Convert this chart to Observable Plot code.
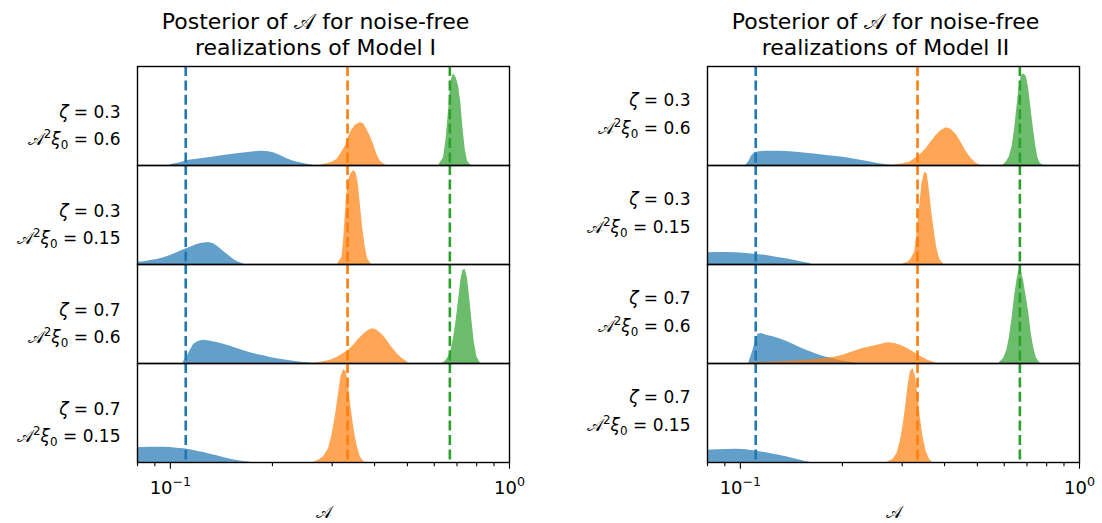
<!DOCTYPE html>
<html><head><meta charset="utf-8">
<script src="https://cdn.jsdelivr.net/npm/d3@7"></script>
<script src="https://cdn.jsdelivr.net/npm/@observablehq/plot@0.6"></script>
<style>
body{margin:0;background:#fff;}
#chart{width:1102px;height:523px;}
</style>
</head><body><div id="chart"></div>
<script>
// ---- categories & labels ----
const models = ["Model I", "Model II"];
const rowZeta = ["0.3", "0.3", "0.7", "0.7"];
const rowA2xi = ["0.6", "0.15", "0.6", "0.15"];
const seriesNames = ["low", "mid", "high"];
const seriesColors = ["#1f77b4", "#ff7f0e", "#2ca02c"];
const truthValues = [0.111, 0.333, 0.667];   // dashed true values
const majorTicks = [0.1, 1];
const majorTickLabels = ["10⁻¹", "10⁰"];
const minorTicks = [0.08, 0.09, 0.2, 0.3, 0.4, 0.5, 0.6, 0.7, 0.8, 0.9];

// ---- posterior histograms: [A, relative density] ----
const I_r1_blue = [[0.0995,0],[0.1005,1],[0.1070,2.7],[0.1120,5],[0.1198,6.3],[0.1312,8],[0.1436,10],[0.1572,11.7],[0.1721,13.3],[0.1842,14.3],[0.1927,14],[0.2016,12.7],[0.2110,10],[0.2207,6.7],[0.2309,4.3],[0.2416,2.7],[0.2528,1.3],[0.2633,0.3],[0.2657,0]];
const I_r1_orange = [[0.2767,0],[0.2799,0.7],[0.2896,1.7],[0.2996,3.3],[0.3099,6],[0.3170,11],[0.3279,19.3],[0.3392,32.7],[0.3509,40.3],[0.3630,42.7],[0.3714,41.7],[0.3798,36],[0.3885,29.3],[0.3974,21],[0.4065,11],[0.4158,4.3],[0.4253,1.7],[0.4331,0]];
const I_r1_green = [[0.6191,0],[0.6248,2.7],[0.6391,7.7],[0.6507,27.7],[0.6611,54.3],[0.6717,84.3],[0.6839,91.7],[0.6964,87.7],[0.7075,79.3],[0.7188,62.7],[0.7287,37.7],[0.7403,16],[0.7521,4.3],[0.7658,1],[0.7728,0]];

const I_r2_blue = [[0.08,2.3],[0.0835,2.7],[0.0873,4],[0.0914,5],[0.0956,6.7],[0.1,9],[0.1046,11.7],[0.1095,14.7],[0.1145,17.3],[0.1198,20],[0.1240,21.3],[0.1297,22],[0.1342,20.7],[0.1388,17.3],[0.1436,13],[0.1486,9],[0.1537,5],[0.1590,2.3],[0.1637,0.7],[0.1652,0]];
const I_r2_orange = [[0.3113,0],[0.3134,2.3],[0.3206,7.3],[0.3242,24],[0.3301,64],[0.3354,84],[0.3408,90.7],[0.3470,94],[0.3533,91.3],[0.3581,80.7],[0.3630,60.7],[0.3688,37.3],[0.3756,17.3],[0.3816,5.7],[0.3885,1.7],[0.3921,0]];

const I_r3_blue = [[0.1090,0],[0.1095,2.3],[0.1120,6.7],[0.1145,13.3],[0.1172,19.3],[0.1212,22.3],[0.1254,23.3],[0.1312,22.3],[0.1373,21],[0.1436,19.3],[0.1503,17.3],[0.1572,15],[0.1645,12.7],[0.1721,10.7],[0.1801,9],[0.1884,7.7],[0.1971,6],[0.2062,4.7],[0.2158,3.7],[0.2258,2.7],[0.2362,1.7],[0.2471,1],[0.2586,0.5],[0.2615,0]];
const I_r3_orange = [[0.2574,0],[0.2705,0.7],[0.2831,1.7],[0.2962,3.3],[0.3099,6],[0.3242,10],[0.3354,13.3],[0.3470,18.3],[0.3589,24.3],[0.3714,29.3],[0.3842,33.3],[0.3956,34.7],[0.4065,33.3],[0.4205,29.3],[0.4350,23.3],[0.4501,16],[0.4656,10],[0.4817,5.3],[0.4983,1.7],[0.5039,0]];
const I_r3_green = [[0.6318,0],[0.6463,2],[0.6611,6.7],[0.6717,12.7],[0.6839,25],[0.6964,43.3],[0.7075,63.3],[0.7188,83.3],[0.7287,93.3],[0.7403,94],[0.7521,85],[0.7624,66.7],[0.7745,43.3],[0.7869,21.7],[0.8012,6.7],[0.8159,1.7],[0.8233,0]];

const I_r4_blue = [[0.08,15],[0.0835,15],[0.0873,15.3],[0.0914,15.3],[0.0956,15.3],[0.1,15],[0.1046,14.3],[0.1095,13.7],[0.1145,12.7],[0.1198,11.3],[0.1254,10],[0.1312,8.3],[0.1373,6.7],[0.1436,5],[0.1503,3.3],[0.1572,2],[0.1645,1],[0.1721,0.3],[0.1737,0]];
const I_r4_orange = [[0.2633,0],[0.2645,0.3],[0.2736,2.3],[0.2831,5.7],[0.2928,14],[0.2996,27.3],[0.3064,45.7],[0.3134,69],[0.3184,85.7],[0.3242,93],[0.3301,90.7],[0.3354,75.7],[0.3408,55.7],[0.3470,35.7],[0.3549,17.3],[0.3630,5.7],[0.3714,1],[0.3764,0]];

const II_r1_blue = [[0.1037,0],[0.1042,0.7],[0.1061,4.3],[0.1078,9.3],[0.1102,12.7],[0.1140,13.7],[0.1193,14.3],[0.1277,14.3],[0.1366,14],[0.1462,13.3],[0.1565,12.3],[0.1675,11.3],[0.1793,10],[0.1918,9],[0.2053,7.7],[0.2197,6],[0.2352,4.3],[0.2517,2.3],[0.2663,1],[0.2786,0.3],[0.2818,0]];
const II_r1_orange = [[0.2786,0],[0.2882,0.7],[0.3016,1.7],[0.3155,3.3],[0.3301,7.7],[0.3415,11.7],[0.3533,17],[0.3655,23.7],[0.3781,30.3],[0.3912,35],[0.4047,37.7],[0.4186,36],[0.4331,31],[0.4480,22.7],[0.4635,13.7],[0.4795,7],[0.4960,2.3],[0.5074,0.7],[0.5131,0]];
const II_r1_green = [[0.5944,0],[0.5971,0.7],[0.6108,4.3],[0.6218,9.3],[0.6333,19.3],[0.6434,36],[0.6537,57.7],[0.6626,76],[0.6732,89.3],[0.6839,91.7],[0.6964,89.3],[0.7075,77.7],[0.7172,61],[0.7287,41],[0.7420,21],[0.7538,7.7],[0.7658,2.3],[0.7762,0.7],[0.7833,0]];

const II_r2_blue = [[0.08,11.7],[0.0850,12],[0.0909,12],[0.0973,11.7],[0.1042,11],[0.1115,10],[0.1193,9],[0.1277,7.3],[0.1366,5.7],[0.1462,3.7],[0.1530,2.3],[0.1601,1],[0.1623,0]];
const II_r2_orange = [[0.3016,0],[0.3029,0.7],[0.3120,2.3],[0.3191,5.7],[0.3264,12.3],[0.3316,30.7],[0.3377,57.3],[0.3431,80.7],[0.3494,92.3],[0.3557,90.7],[0.3614,72.3],[0.3672,50.7],[0.3739,30.7],[0.3798,15.7],[0.3868,5.7],[0.3938,1.7],[0.3983,0]];

const II_r3_blue = [[0.1061,0],[0.1065,3.3],[0.1090,13.3],[0.1110,23.3],[0.1127,29.3],[0.1153,30],[0.1193,28.3],[0.1248,26.7],[0.1306,24.7],[0.1366,22.3],[0.1430,19.3],[0.1496,16],[0.1565,13.3],[0.1637,10.7],[0.1713,8.3],[0.1793,6.3],[0.1876,4.7],[0.1962,3],[0.2053,1.7],[0.2148,0.7],[0.2197,0]];
const II_r3_orange = [[0.1053,0],[0.1061,0.7],[0.1193,1.3],[0.1336,2],[0.1496,3],[0.1675,4],[0.1876,6],[0.2007,8.3],[0.2148,11.7],[0.2299,15],[0.2460,17.3],[0.2603,19.3],[0.2724,20.7],[0.2850,20],[0.2982,18],[0.3120,14.7],[0.3264,10.7],[0.3415,6.7],[0.3573,3.3],[0.3739,1],[0.3798,0]];
const II_r3_green = [[0.5785,0],[0.5812,1],[0.5971,5],[0.6108,13.3],[0.6218,26.7],[0.6333,46.7],[0.6434,66.7],[0.6537,83.3],[0.6626,93.3],[0.6732,92.7],[0.6839,83.3],[0.6964,66.7],[0.7091,50],[0.7204,30],[0.7336,15],[0.7453,6],[0.7589,1.7],[0.7658,0]];

const II_r4_blue = [[0.08,12.3],[0.0850,12.7],[0.0909,13],[0.0973,13.3],[0.1042,12.7],[0.1115,11.3],[0.1193,9.7],[0.1277,7.7],[0.1366,5.7],[0.1462,3.3],[0.1547,1.3],[0.1601,0.3],[0.1619,0]];
const II_r4_orange = [[0.2712,0],[0.2724,0.7],[0.2818,3],[0.2896,9],[0.2962,20.7],[0.3016,35.7],[0.3071,55.7],[0.3120,75.7],[0.3170,90.7],[0.3228,94],[0.3287,85.7],[0.3339,65.7],[0.3392,45.7],[0.3454,25.7],[0.3533,10.7],[0.3614,3],[0.3672,0.7],[0.3697,0]];

const histograms = [
  ["Model I", 0, "low", I_r1_blue], ["Model I", 0, "mid", I_r1_orange], ["Model I", 0, "high", I_r1_green],
  ["Model I", 1, "low", I_r2_blue], ["Model I", 1, "mid", I_r2_orange],
  ["Model I", 2, "low", I_r3_blue], ["Model I", 2, "mid", I_r3_orange], ["Model I", 2, "high", I_r3_green],
  ["Model I", 3, "low", I_r4_blue], ["Model I", 3, "mid", I_r4_orange],
  ["Model II", 0, "low", II_r1_blue], ["Model II", 0, "mid", II_r1_orange], ["Model II", 0, "high", II_r1_green],
  ["Model II", 1, "low", II_r2_blue], ["Model II", 1, "mid", II_r2_orange],
  ["Model II", 2, "low", II_r3_blue], ["Model II", 2, "mid", II_r3_orange], ["Model II", 2, "high", II_r3_green],
  ["Model II", 3, "low", II_r4_blue], ["Model II", 3, "mid", II_r4_orange]
];

const table = histograms.flatMap(([model, row, series, pts]) =>
  pts.map(([A, h]) => ({model, row, series, key: model + "|" + row + "|" + series, A, h})));
const truths = truthValues.map((v, i) => ({value: v, series: seriesNames[i]}));

const rowLabels = models.flatMap(m => rowZeta.map((z, i) => ({model: m, row: i, l1: `ζ = ${z}`, l2: `𝒜²ξ₀ = ${rowA2xi[i]}`})));
const leftLabels = rowLabels.filter(d => d.model === models[0]);
const rightLabels = rowLabels.filter(d => d.model === models[1]);
const tops = models.map(m => ({model: m, row: 0}));
const bottoms = models.map(m => ({model: m, row: 3}));

const font = "DejaVu Sans, sans-serif";
const lab = {frameAnchor: "left", textAnchor: "end", lineAnchor: "middle", dx: -17, fontSize: 17, fx: "model", fy: "row", fill: "black"};
const ttl = {fx: "model", fy: "row", frameAnchor: "top", lineAnchor: "middle", dx: -8, fontSize: 22, fill: "black"};

const chart = Plot.plot({
  width: 1102, height: 523,
  marginLeft: 137, marginRight: 22, marginTop: 66, marginBottom: 61,
  style: {fontFamily: font, background: "white", color: "black"},
  x: {type: "log", domain: [0.08, 1]},
  y: {domain: [0, 99], axis: null},
  fx: {domain: models, axis: null, paddingInner: 198 / 571, paddingOuter: 0},
  fy: {domain: [0, 1, 2, 3], axis: null, padding: 0},
  color: {domain: seriesNames, range: seriesColors},
  marks: [
    Plot.areaY(table, {x: "A", y1: 0, y2: "h", z: "key", fill: "series", fillOpacity: 0.7, fx: "model", fy: "row", curve: "linear", clip: true}),
    Plot.ruleX(truths, {x: "value", stroke: "series", strokeWidth: 2.6, strokeDasharray: "10,4.4"}),
    Plot.frame({stroke: "black", strokeWidth: 1.4}),
    Plot.axisX({ticks: minorTicks, tickSize: 4.2, tickFormat: () => "", strokeWidth: 1.1, stroke: "black"}),
    Plot.axisX({ticks: majorTicks, tickSize: 6.7, tickPadding: 12, strokeWidth: 1.1, stroke: "black",
      tickFormat: d => majorTickLabels[majorTicks.indexOf(d)], fontSize: 18, fill: "black", label: null}),
    Plot.text(bottoms, {fx: "model", fy: "row", frameAnchor: "bottom", lineAnchor: "middle", dy: 50, text: () => "𝒜", fontSize: 17, fill: "black"}),
    Plot.text(tops, {...ttl, dy: -45, text: () => "Posterior of 𝒜 for noise-free"}),
    Plot.text(tops, {...ttl, dy: -18.5, text: d => `realizations of ${d.model}`}),
    Plot.text(leftLabels, {...lab, text: "l1", dy: -3.9}),
    Plot.text(leftLabels, {...lab, text: "l2", dy: 23.6}),
    Plot.text(rightLabels, {...lab, text: "l1", dy: -15.6}),
    Plot.text(rightLabels, {...lab, text: "l2", dy: 12.6})
  ]
});

// math-text styling: italic Greek, real super/subscripts
const SUP = {"²": "2", "⁻": "−", "¹": "1", "⁰": "0"};
const SUB = {"₀": "0"};
chart.querySelectorAll("text").forEach(t => {
  if (t.children.length) return;
  const s = t.textContent;
  if (!/[ζξ²⁻¹⁰₀]/.test(s)) return;
  const isTick = majorTickLabels.includes(s);
  const fsAttr = t.closest("[font-size]");
  const fs = isTick ? 18 : (fsAttr ? parseFloat(fsAttr.getAttribute("font-size")) : 17);
  if (isTick) t.setAttribute("font-size", fs);
  const groups = [];
  for (const ch of s) {
    let kind = "n", c = ch;
    if (SUP[ch]) { kind = "sup"; c = SUP[ch]; }
    else if (SUB[ch]) { kind = "sub"; c = SUB[ch]; }
    else if (ch === "ζ" || ch === "ξ") kind = "it";
    const last = groups[groups.length - 1];
    if (last && last.kind === kind) last.text += c; else groups.push({kind, text: c});
  }
  t.textContent = "";
  let cur = 0;
  for (const g of groups) {
    const ts = document.createElementNS("http://www.w3.org/2000/svg", "tspan");
    ts.textContent = g.text;
    const target = g.kind === "sup" ? -0.42 * fs : g.kind === "sub" ? 0.22 * fs : 0;
    if (target !== cur) { ts.setAttribute("dy", target - cur); cur = target; }
    if (g.kind === "sup" || g.kind === "sub") ts.setAttribute("font-size", 0.7 * fs);
    if (g.kind === "it") ts.setAttribute("font-style", "italic");
    t.appendChild(ts);
  }
});

document.getElementById("chart").appendChild(chart);
</script>
</body></html>
